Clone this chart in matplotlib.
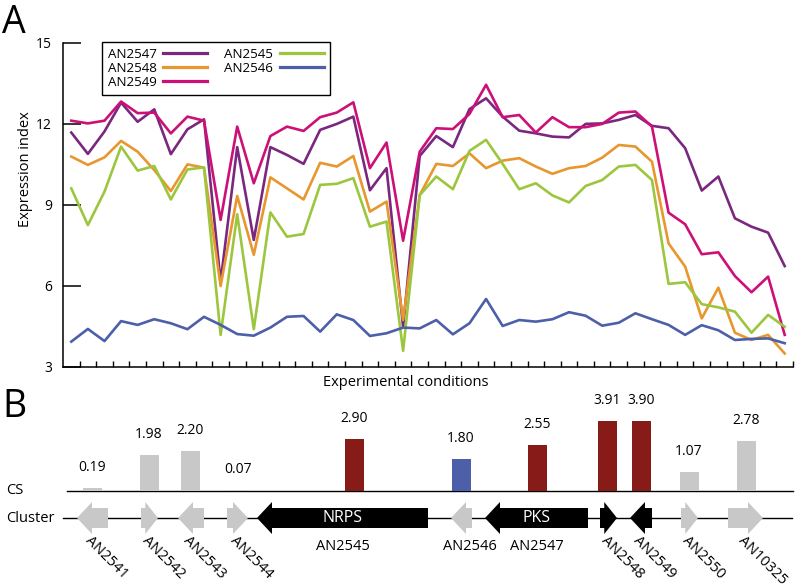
import numpy as np
import matplotlib
matplotlib.use('Agg')
import matplotlib.pyplot as plt
from matplotlib.patches import Polygon

plt.rcParams['font.family'] = ['Open Sans', 'DejaVu Sans']

# ---- panel A: expression index across 44 experimental conditions ----
an2547 = [11.68, 10.89, 11.72, 12.79, 12.08, 12.54, 10.88, 11.80, 12.17, 6.15,
          11.14, 7.70, 11.14, 10.85, 10.52, 11.78, 12.00, 12.27, 9.54, 10.36,
          4.48, 10.81, 11.55, 11.14, 12.55, 12.95, 12.27, 11.75, 11.65, 11.53,
          11.50, 12.00, 12.02, 12.15, 12.33, 11.93, 11.84, 11.10, 9.53, 10.05,
          8.50, 8.19, 7.97, 6.73]
an2548 = [10.79, 10.48, 10.76, 11.37, 10.97, 10.29, 9.51, 10.50, 10.38, 5.99,
          9.33, 7.15, 10.02, 9.61, 9.20, 10.56, 10.42, 10.81, 8.75, 9.12,
          4.73, 9.36, 10.52, 10.44, 10.91, 10.36, 10.64, 10.73, 10.42, 10.15,
          10.36, 10.44, 10.75, 11.22, 11.16, 10.60, 7.57, 6.71, 4.79, 5.93,
          4.26, 3.99, 4.18, 3.49]
an2549 = [12.12, 12.02, 12.12, 12.83, 12.40, 12.42, 11.65, 12.27, 12.12, 8.44,
          11.90, 9.80, 11.55, 11.90, 11.74, 12.25, 12.42, 12.80, 10.36, 11.31,
          7.67, 10.97, 11.84, 11.81, 12.37, 13.45, 12.25, 12.33, 11.68, 12.25,
          11.88, 11.88, 12.00, 12.42, 12.46, 11.90, 8.71, 8.28, 7.17, 7.24,
          6.36, 5.76, 6.34, 4.18]
an2545 = [9.61, 8.25, 9.49, 11.16, 10.27, 10.44, 9.20, 10.31, 10.39, 4.18,
          8.65, 4.39, 8.72, 7.82, 7.92, 9.74, 9.78, 9.99, 8.19, 8.38,
          3.59, 9.36, 10.05, 9.58, 11.00, 11.41, 10.52, 9.58, 9.80, 9.35,
          9.09, 9.70, 9.92, 10.42, 10.48, 9.92, 6.07, 6.13, 5.32, 5.20,
          5.04, 4.26, 4.92, 4.48]
an2546 = [3.93, 4.40, 3.95, 4.69, 4.55, 4.76, 4.61, 4.39, 4.85, 4.55,
          4.21, 4.15, 4.45, 4.85, 4.88, 4.30, 4.94, 4.73, 4.14, 4.24,
          4.45, 4.42, 4.73, 4.20, 4.61, 5.51, 4.51, 4.73, 4.67, 4.76,
          5.02, 4.89, 4.52, 4.63, 4.98, 4.76, 4.55, 4.18, 4.54, 4.35,
          3.99, 4.03, 4.05, 3.87]

# ---- panel B: cluster genes and CS scores ----
genes = ['AN2541', 'AN2542', 'AN2543', 'AN2544', 'AN2545', 'AN2546',
         'AN2547', 'AN2548', 'AN2549', 'AN2550', 'AN10325']
gene_start = [77, 141, 178, 227, 257, 451, 485, 600, 630, 681, 728]
gene_end = [108, 158, 204, 248, 428, 472, 588, 617, 652, 698, 763]
strand = [-1, 1, -1, 1, -1, -1, -1, 1, -1, 1, 1]
cs_values = [0.19, 1.98, 2.20, 0.07, 2.90, 1.80, 2.55, 3.91, 3.90, 1.07, 2.78]
bar_pos = [92, 149, 190, 238, 354, 461, 537, 607, 641, 689, 746]
domains = {'AN2545': 'NRPS', 'AN2547': 'PKS'}
flat_labels = ['AN2545', 'AN2546', 'AN2547']

purple = '#7a287f'
orange = '#e8962e'
magenta = '#cc1077'
green = '#9cc63e'
blue = '#4c5fa8'
red = '#861b17'
grey = '#c8c8c8'

fig = plt.figure(figsize=(7.98, 5.88), dpi=100)

ax = fig.add_axes([63 / 798, 1 - 366.7 / 588, 730 / 798, 323.7 / 588])
x = np.arange(len(an2547))
lw = 1.9
l47, = ax.plot(x, an2547, color=purple, lw=lw, label='AN2547')
l48, = ax.plot(x, an2548, color=orange, lw=lw, label='AN2548')
l49, = ax.plot(x, an2549, color=magenta, lw=lw, label='AN2549')
l45, = ax.plot(x, an2545, color=green, lw=lw, label='AN2545')
l46, = ax.plot(x, an2546, color=blue, lw=lw, label='AN2546')
ax.set_xlim(-0.5, len(x) - 0.5)
ax.set_ylim(3, 15)
ax.set_yticks([3, 6, 9, 12, 15])
ax.set_xticks(x + 0.5)
ax.set_xticklabels([])
ax.spines['top'].set_visible(False)
ax.spines['right'].set_visible(False)
for s in ['left', 'bottom']:
    ax.spines[s].set_linewidth(1.1)
ax.tick_params(axis='y', direction='in', length=13, width=1.1, pad=8,
               labelsize=10, colors='black')
ax.tick_params(axis='x', direction='in', length=4.5, width=1.0)
ax.set_ylabel('Expression index', fontsize=10.5)
ax.yaxis.set_label_coords(-0.041, 0.61)
ax.set_xlabel('Experimental conditions', fontsize=10.5)
ax.xaxis.set_label_coords(0.47, -0.025)

leg = ax.legend(handles=[l47, l48, l49, l45, l46], ncol=2, loc='upper left',
                bbox_to_anchor=(0.053, 1.003), borderaxespad=0, fontsize=9.6,
                markerfirst=False, handlelength=3.3, handletextpad=0.5,
                columnspacing=1.25, labelspacing=0.08, borderpad=0.45,
                fancybox=False, framealpha=1)
leg.get_frame().set_edgecolor('black')
leg.get_frame().set_linewidth(1.0)
for h in leg.legend_handles:
    h.set_linewidth(2.3)

fig.text(2 / 798, 1 - 33 / 588, 'A', fontsize=27, va='baseline')
fig.text(2 / 798, 1 - 417 / 588, 'B', fontsize=27, va='baseline')

# panel B drawn in pixel-like units
bx = fig.add_axes([0, 0, 1, 208 / 588])
bx.set_xlim(0, 798)
bx.set_ylim(588, 380)
bx.axis('off')

cs_y = 491
cl_y = 518
scale = 18
bx.plot([67, 793], [cs_y, cs_y], color='black', lw=1.0)
bx.plot([63, 792], [cl_y, cl_y], color='black', lw=1.0)
bx.text(6, cs_y, 'CS', fontsize=10.5, va='center')
bx.text(6, cl_y, 'Cluster', fontsize=10.5, va='center')

bar_colors = []
for g in genes:
    if g in ('AN2545', 'AN2547', 'AN2548', 'AN2549'):
        bar_colors.append(red)
    elif g == 'AN2546':
        bar_colors.append(blue)
    else:
        bar_colors.append(grey)

heights = np.array(cs_values) * scale
bx.bar(bar_pos, -heights, bottom=cs_y, width=19, color=bar_colors, zorder=3)
for p, h, v in zip(bar_pos, heights, cs_values):
    bx.text(p, cs_y - h - 13, f'{v:.2f}', ha='center', va='bottom', fontsize=10)

hh, hb = 32, 20
for g, s, e, d in zip(genes, gene_start, gene_end, strand):
    fc = 'black' if g in ('AN2545', 'AN2547', 'AN2548', 'AN2549') else grey
    hl = min(15, 0.75 * (e - s))
    if d < 0:
        pts = [(s, cl_y), (s + hl, cl_y - hh / 2), (s + hl, cl_y - hb / 2),
               (e, cl_y - hb / 2), (e, cl_y + hb / 2), (s + hl, cl_y + hb / 2),
               (s + hl, cl_y + hh / 2)]
    else:
        pts = [(e, cl_y), (e - hl, cl_y - hh / 2), (e - hl, cl_y - hb / 2),
               (s, cl_y - hb / 2), (s, cl_y + hb / 2), (e - hl, cl_y + hb / 2),
               (e - hl, cl_y + hh / 2)]
    bx.add_patch(Polygon(pts, closed=True, facecolor=fc, edgecolor='none', zorder=3))
    c = (s + e) / 2
    if g in domains:
        bx.text(c, cl_y, domains[g], color='white', ha='center', va='center',
                fontsize=11.5, zorder=4)
    if g in flat_labels:
        bx.text(c + (8 if g == 'AN2546' else 0), 547, g, ha='center',
                va='center', fontsize=10.5)
    else:
        bx.text(c, 533, g, ha='left', va='top', rotation=-45,
                rotation_mode='anchor', fontsize=10.5)

fig.savefig('out.png', dpi=100)
